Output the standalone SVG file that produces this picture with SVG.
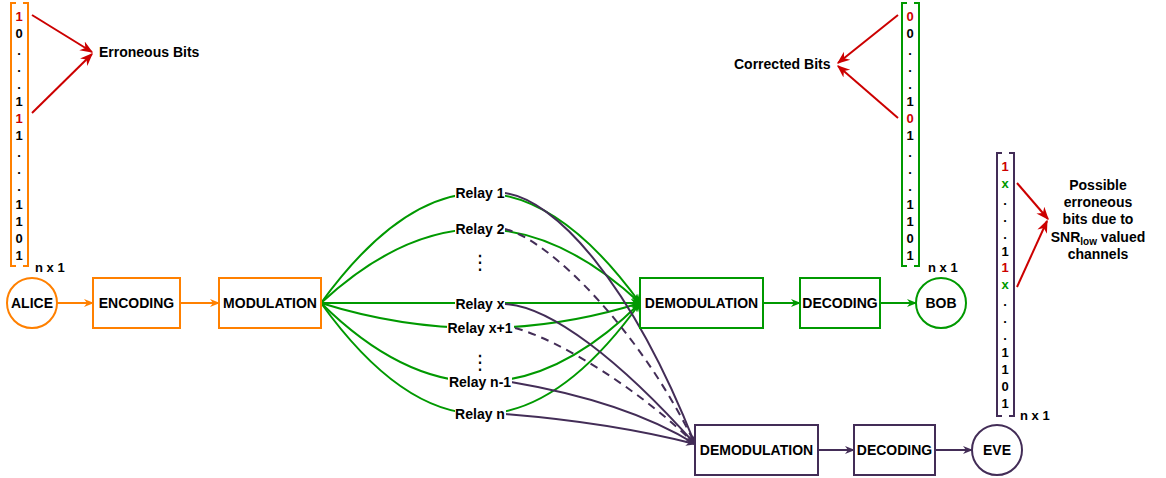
<svg xmlns="http://www.w3.org/2000/svg" width="1166" height="478" viewBox="0 0 1166 478">
<style>
text{font-family:"Liberation Sans",Arial,sans-serif;font-weight:bold;font-size:14px;fill:#000}
.b{font-size:13px}
.c{text-anchor:middle}
.vd{font-family:"DejaVu Sans",sans-serif;font-weight:normal;font-size:20px}
.or{fill:none;stroke:#FF8000;stroke-width:2}
.gr{fill:none;stroke:#009900;stroke-width:2}
.pu{fill:none;stroke:#432D57;stroke-width:2}
.rd{fill:none;stroke:#CC0000;stroke-width:2}
.dash{stroke-dasharray:8 6}
.red{fill:#CC0000}
.grn{fill:#009900}
</style>
<defs>
<marker id="ao" viewBox="0 0 10 10" refX="9" refY="5" markerWidth="10" markerHeight="10" markerUnits="userSpaceOnUse" orient="auto"><path d="M0,1 L10,5 L0,9 L3,5 z" fill="#FF8000"/></marker>
<marker id="ag" viewBox="0 0 10 10" refX="9" refY="5" markerWidth="10" markerHeight="10" markerUnits="userSpaceOnUse" orient="auto"><path d="M0,1 L10,5 L0,9 L3,5 z" fill="#009900"/></marker>
<marker id="ap" viewBox="0 0 10 10" refX="9" refY="5" markerWidth="10" markerHeight="10" markerUnits="userSpaceOnUse" orient="auto"><path d="M0,1 L10,5 L0,9 L3,5 z" fill="#432D57"/></marker>
<marker id="ar" viewBox="0 0 10 10" refX="9" refY="5" markerWidth="13" markerHeight="13" markerUnits="userSpaceOnUse" orient="auto"><path d="M0,1 L10,5 L0,9 L3,5 z" fill="#CC0000"/></marker>
</defs>
<rect width="1166" height="478" fill="#fff"/>

<g id="connectors">
<path class="or" d="M57,303 H93" marker-end="url(#ao)"/>
<path class="or" d="M180,303 H219" marker-end="url(#ao)"/>
<path class="gr" d="M321,303 Q480.5,83 640,303" marker-end="url(#ag)"/>
<path class="gr" d="M321,303 Q480.5,155 640,303" marker-end="url(#ag)"/>
<path class="gr" d="M321,303 H640" marker-end="url(#ag)"/>
<path class="gr" d="M321,303 Q480.5,353 640,303" marker-end="url(#ag)"/>
<path class="gr" d="M321,303 Q480.5,461 640,303" marker-end="url(#ag)"/>
<path class="gr" d="M321,303 Q480.5,525 640,303" marker-end="url(#ag)"/>
<path class="pu" d="M505,193 C555,200 630,280 695,444" marker-end="url(#ap)"/>
<path class="pu dash" d="M505,229 C550,240 640,330 695,444" marker-end="url(#ap)"/>
<path class="pu" d="M505,304 C550,306 620,360 695,444" marker-end="url(#ap)"/>
<path class="pu dash" d="M515,328 C560,340 640,390 695,444" marker-end="url(#ap)"/>
<path class="pu" d="M511,382 C570,392 640,410 695,444" marker-end="url(#ap)"/>
<path class="pu" d="M505,414 C580,420 640,430 695,444" marker-end="url(#ap)"/>
<path class="gr" d="M763,303 H800" marker-end="url(#ag)"/>
<path class="gr" d="M880,303 H916" marker-end="url(#ag)"/>
<path class="pu" d="M818,450 H854" marker-end="url(#ap)"/>
<path class="pu" d="M935,450 H972" marker-end="url(#ap)"/>
<path class="rd" d="M32,15 L92,52" marker-end="url(#ar)"/>
<path class="rd" d="M32,113 L92,54" marker-end="url(#ar)"/>
<path class="rd" d="M898,15 L838,63" marker-end="url(#ar)"/>
<path class="rd" d="M898,118 L838,66" marker-end="url(#ar)"/>
<path class="rd" d="M1017,183 L1048,219" marker-end="url(#ar)"/>
<path class="rd" d="M1017,287 L1047,221" marker-end="url(#ar)"/>
</g>

<g id="relay-labels">
<rect x="455" y="185" width="50" height="16" fill="#fff"/>
<text class="c" x="480" y="198">Relay 1</text>
<rect x="455" y="221" width="50" height="16" fill="#fff"/>
<text class="c" x="480" y="234">Relay 2</text>
<text class="c vd" x="480" y="269">⋮</text>
<rect x="455" y="296" width="50" height="16" fill="#fff"/>
<text class="c" x="480" y="309">Relay x</text>
<rect x="447" y="320" width="67" height="16" fill="#fff"/>
<text class="c" x="480" y="333">Relay x+1</text>
<text class="c vd" x="480" y="369">⋮</text>
<rect x="448" y="374" width="64" height="16" fill="#fff"/>
<text class="c" x="480" y="387">Relay n-1</text>
<rect x="455" y="406" width="51" height="16" fill="#fff"/>
<text class="c" x="480" y="419">Relay n</text>
</g>

<g id="alice"><circle cx="32" cy="303" r="25" fill="#fff" class="or"/><text class="c" x="32" y="308">ALICE</text></g>
<g id="encoding"><rect x="93" y="278" width="87" height="50" fill="#fff" class="or"/><text class="c" x="136.5" y="308">ENCODING</text></g>
<g id="modulation"><rect x="219" y="278" width="102" height="50" fill="#fff" class="or"/><text class="c" x="270" y="308">MODULATION</text></g>

<g id="bob-demodulation"><rect x="640" y="278" width="123" height="50" fill="#fff" class="gr"/><text class="c" x="701.5" y="308">DEMODULATION</text></g>
<g id="bob-decoding"><rect x="800" y="278" width="80" height="50" fill="#fff" class="gr"/><text class="c" x="840" y="308">DECODING</text></g>
<g id="bob"><circle cx="941" cy="303" r="25" fill="#fff" class="gr"/><text class="c" x="941" y="308">BOB</text></g>

<g id="eve-demodulation"><rect x="695" y="425" width="123" height="50" fill="#fff" class="pu"/><text class="c" x="756.5" y="455">DEMODULATION</text></g>
<g id="eve-decoding"><rect x="854" y="425" width="81" height="50" fill="#fff" class="pu"/><text class="c" x="894.5" y="455">DECODING</text></g>
<g id="eve"><circle cx="997" cy="450" r="25" fill="#fff" class="pu"/><text class="c" x="997" y="455">EVE</text></g>

<g id="alice-vector">
<path class="or" d="M16,3 H11 V266 H16 M23,3 H28 V266 H23"/>
<text class="c b red" x="19" y="21">1</text>
<text class="c b" x="19" y="38">0</text>
<text class="c b" x="19" y="55">.</text>
<text class="c b" x="19" y="72">.</text>
<text class="c b" x="19" y="89">.</text>
<text class="c b" x="19" y="106">1</text>
<text class="c b red" x="19" y="123">1</text>
<text class="c b" x="19" y="140">1</text>
<text class="c b" x="19" y="157">.</text>
<text class="c b" x="19" y="174">.</text>
<text class="c b" x="19" y="191">.</text>
<text class="c b" x="19" y="209">1</text>
<text class="c b" x="19" y="226">1</text>
<text class="c b" x="19" y="243">0</text>
<text class="c b" x="19" y="260">1</text>
<text class="b" x="35" y="272">n x 1</text>
<text x="99" y="57">Erroneous Bits</text>
</g>

<g id="bob-vector">
<path class="gr" d="M907,3 H902 V266 H907 M914,3 H919 V266 H914"/>
<text class="c b red" x="910" y="21">0</text>
<text class="c b" x="910" y="38">0</text>
<text class="c b" x="910" y="55">.</text>
<text class="c b" x="910" y="72">.</text>
<text class="c b" x="910" y="89">.</text>
<text class="c b" x="910" y="106">1</text>
<text class="c b red" x="910" y="123">0</text>
<text class="c b" x="910" y="140">1</text>
<text class="c b" x="910" y="157">.</text>
<text class="c b" x="910" y="174">.</text>
<text class="c b" x="910" y="191">.</text>
<text class="c b" x="910" y="209">1</text>
<text class="c b" x="910" y="226">1</text>
<text class="c b" x="910" y="243">0</text>
<text class="c b" x="910" y="260">1</text>
<text class="b" x="928" y="272">n x 1</text>
<text x="734" y="69">Corrected Bits</text>
</g>

<g id="eve-vector">
<path class="pu" d="M1002,153 H997 V416 H1002 M1009,153 H1014 V416 H1009"/>
<text class="c b red" x="1005" y="171">1</text>
<text class="c b grn" x="1005" y="188">x</text>
<text class="c b" x="1005" y="205">.</text>
<text class="c b" x="1005" y="222">.</text>
<text class="c b" x="1005" y="239">.</text>
<text class="c b" x="1005" y="256">1</text>
<text class="c b red" x="1005" y="272">1</text>
<text class="c b grn" x="1005" y="289">x</text>
<text class="c b" x="1005" y="306">.</text>
<text class="c b" x="1005" y="323">.</text>
<text class="c b" x="1005" y="340">.</text>
<text class="c b" x="1005" y="357">1</text>
<text class="c b" x="1005" y="374">1</text>
<text class="c b" x="1005" y="391">0</text>
<text class="c b" x="1005" y="408">1</text>
<text class="b" x="1020" y="420">n x 1</text>
<text class="c" x="1098" y="190">Possible</text>
<text class="c" x="1098" y="207">erroneous</text>
<text class="c" x="1098" y="224">bits due to</text>
<text class="c" x="1098" y="242">SNR<tspan font-size="10" dy="3">low</tspan><tspan dy="-3"> valued</tspan></text>
<text class="c" x="1098" y="259">channels</text>
</g>
</svg>
